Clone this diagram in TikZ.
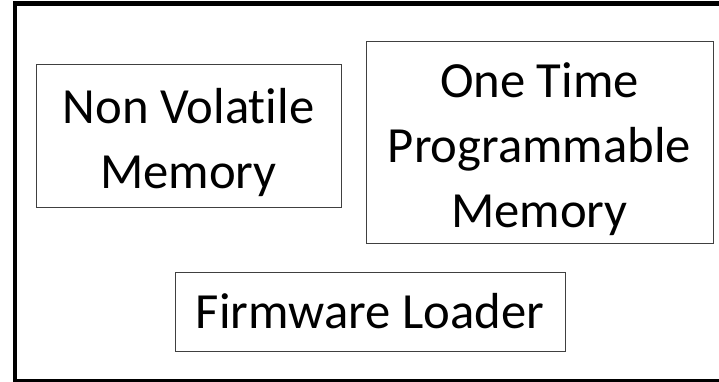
\documentclass[tikz,border=0pt]{standalone}
\usepackage{fontspec}
\setmainfont[Ligatures=NoCommon]{Carlito}
\usepackage{tikz}
\usetikzlibrary{positioning}

\tikzset{
    membox/.style={draw=black!75, line width=0.75pt, inner sep=0pt, outer sep=0pt,
        align=center, font=\fontsize{38}{48.5}\selectfont},
}
\newcommand{\topstrut}{\rule{0pt}{37pt}}

\begin{document}
\begin{tikzpicture}[x=0.75pt, y=-0.75pt]
\useasboundingbox (0,0) rectangle (719,382);

% Outer frame (right side runs off the page)
\draw[line width=3pt, black] (15,3.5) rectangle (726,381);

% Memory blocks
\node[membox, minimum width=228.75pt, minimum height=107.25pt] (nvm) at (188.5,135.5)
    {\topstrut Non Volatile\\Memory};
\node[membox, minimum width=260.25pt, minimum height=151.5pt] (otp) at (539.5,142)
    {\topstrut One Time\\Programmable\\Memory};

% Loader
\node[membox, minimum width=292.5pt, minimum height=59.25pt] (loader) at (370,311.5)
    {Firmware Loader};

\end{tikzpicture}
\end{document}
